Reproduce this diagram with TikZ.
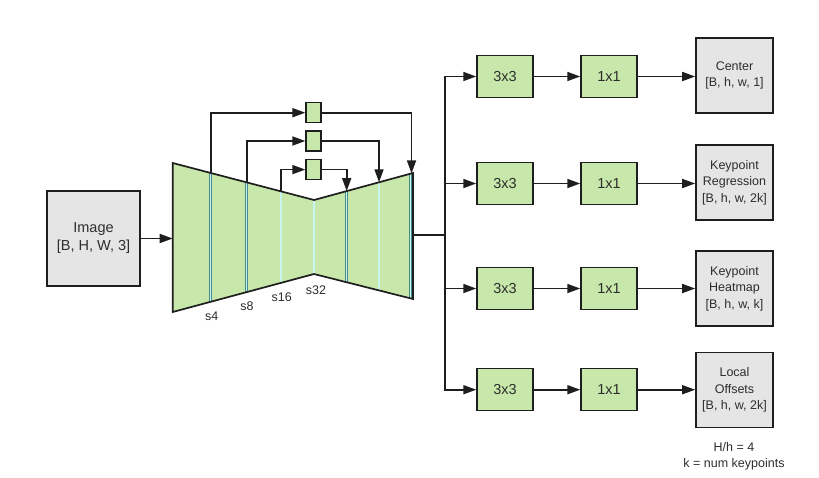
\documentclass[tikz,border=0pt]{standalone}
\usepackage{fontspec}
\setmainfont{Liberation Sans}
\usetikzlibrary{arrows.meta,calc}
\definecolor{boxgreen}{RGB}{199,232,170}
\definecolor{boxgray}{RGB}{229,229,229}
\definecolor{edgec}{RGB}{30,30,30}
\definecolor{txt}{RGB}{45,45,45}
\definecolor{sepcyan}{RGB}{200,245,240}
\definecolor{sepdark}{RGB}{70,140,140}
\begin{document}
\begin{tikzpicture}[x=1pt,y=-1pt,
  conn/.style={draw=edgec, line width=1.7pt, -{Triangle[length=13pt,width=9pt]}},
  plain/.style={draw=edgec, line width=1.7pt},
  greenbox/.style={draw=edgec, line width=1.5pt, fill=boxgreen, minimum width=56pt, minimum height=42pt, inner sep=0pt, text=txt, font=\fontsize{14.5}{17}\selectfont},
  skipbox/.style={draw=edgec, line width=1.3pt, fill=boxgreen, minimum width=15pt, minimum height=20pt, inner sep=0pt},
  graybox/.style={draw=edgec, line width=1.6pt, fill=boxgray, minimum width=77pt, minimum height=75pt, inner sep=0pt, align=center, text=txt, font=\fontsize{12.5}{16.7}\selectfont},
  lbl/.style={text=txt, font=\fontsize{12.5}{14}\selectfont, inner sep=0pt},
  sep/.style={line width=2.8pt, draw=sepdark},
  sepin/.style={line width=1.4pt, draw=sepcyan}]
\useasboundingbox (0,0) rectangle (819,477);

% input image
\node[graybox, minimum width=93pt, minimum height=95pt, font=\fontsize{14.5}{18}\selectfont] (img) at (93.5,238.5) {Image\\{}[B, H, W, 3]};

% trapezoid (encoder-decoder)
\coordinate (A) at (172.7,163);
\coordinate (B) at (314,200);
\coordinate (C) at (413,173);
\coordinate (D) at (413,299);
\coordinate (E) at (314,274);
\coordinate (F) at (172.7,312);
\fill[boxgreen] (A) -- (B) -- (C) -- (D) -- (E) -- (F) -- cycle;

% separators
\foreach \t in {0.269,0.524,0.766} {
  \draw[sep] ($(A)!\t!(B)$) -- ($(F)!\t!(E)$);
  \draw[sepin] ($(A)!\t!(B)$) -- ($(F)!\t!(E)$);
}
\foreach \t in {0,0.330,0.657,0.975} {
  \draw[sep] ($(B)!\t!(C)$) -- ($(E)!\t!(D)$);
  \draw[sepin] ($(B)!\t!(C)$) -- ($(E)!\t!(D)$);
}
\draw[plain, line join=miter] (A) -- (B) -- (C) -- (D) -- (E) -- (F) -- cycle;

\coordinate (tin) at (172.7,238.5);
\draw[conn] (img.east) -- (tin);

% skip connections
\node[skipbox] (k1) at (313.5,112.7) {};
\node[skipbox] (k2) at (313.5,141) {};
\node[skipbox] (k3) at (313.5,169.6) {};
\coordinate (p1) at ($(A)!0.269!(B)$);
\coordinate (p2) at ($(A)!0.524!(B)$);
\coordinate (p3) at ($(A)!0.766!(B)$);
\coordinate (q1) at ($(B)!0.985!(C)$);
\coordinate (q2) at ($(B)!0.657!(C)$);
\coordinate (q3) at ($(B)!0.330!(C)$);
\draw[conn] (p1) |- (k1.west);
\draw[conn] (p2) |- (k2.west);
\draw[conn] (p3) |- (k3.west);
\draw[conn] (k1.east) -| (q1);
\draw[conn] (k2.east) -| (q2);
\draw[conn] (k3.east) -| (q3);

% stride labels
\node[lbl] (s4) at (211.7,316.7) {s4};
\node[lbl] (s8) at (247,306) {s8};
\node[lbl] (s16) at (281.7,297) {s16};
\node[lbl] (s32) at (316,290) {s32};

% heads
\coordinate (tout) at (413,235);
\coordinate (bus) at (445,235);
\draw[plain] (tout) -- (bus);

\node[greenbox] (a1) at (505,76.5) {3x3};
\node[greenbox] (b1) at (609,76.5) {1x1};
\node[graybox] (o1) at (734.5,75.5) {Center\\{}[B, h, w, 1]};

\node[greenbox] (a2) at (505,183.5) {3x3};
\node[greenbox] (b2) at (609,183.5) {1x1};
\node[graybox] (o2) at (734.5,182.5) {Keypoint\\Regression\\{}[B, h, w, 2k]};

\node[greenbox] (a3) at (505,288.5) {3x3};
\node[greenbox] (b3) at (609,288.5) {1x1};
\node[graybox] (o3) at (734.5,288.5) {Keypoint\\Heatmap\\{}[B, h, w, k]};

\node[greenbox] (a4) at (505,389.7) {3x3};
\node[greenbox] (b4) at (609,389.7) {1x1};
\node[graybox] (o4) at (734.5,390) {Local\\Offsets\\{}[B, h, w, 2k]};

\foreach \i in {1,2,3,4} {
  \draw[conn] (bus) |- (a\i.west);
  \draw[conn] (a\i.east) -- (b\i.west);
  \draw[conn] (b\i.east) -- (o\i.west |- b\i.east);
}

\node[lbl, font=\fontsize{12.5}{14}\selectfont] (note1) at (734,447) {H/h = 4};
\node[lbl, font=\fontsize{12.5}{14}\selectfont] (note2) at (734,464) {k = num keypoints};
\end{tikzpicture}
\end{document}
